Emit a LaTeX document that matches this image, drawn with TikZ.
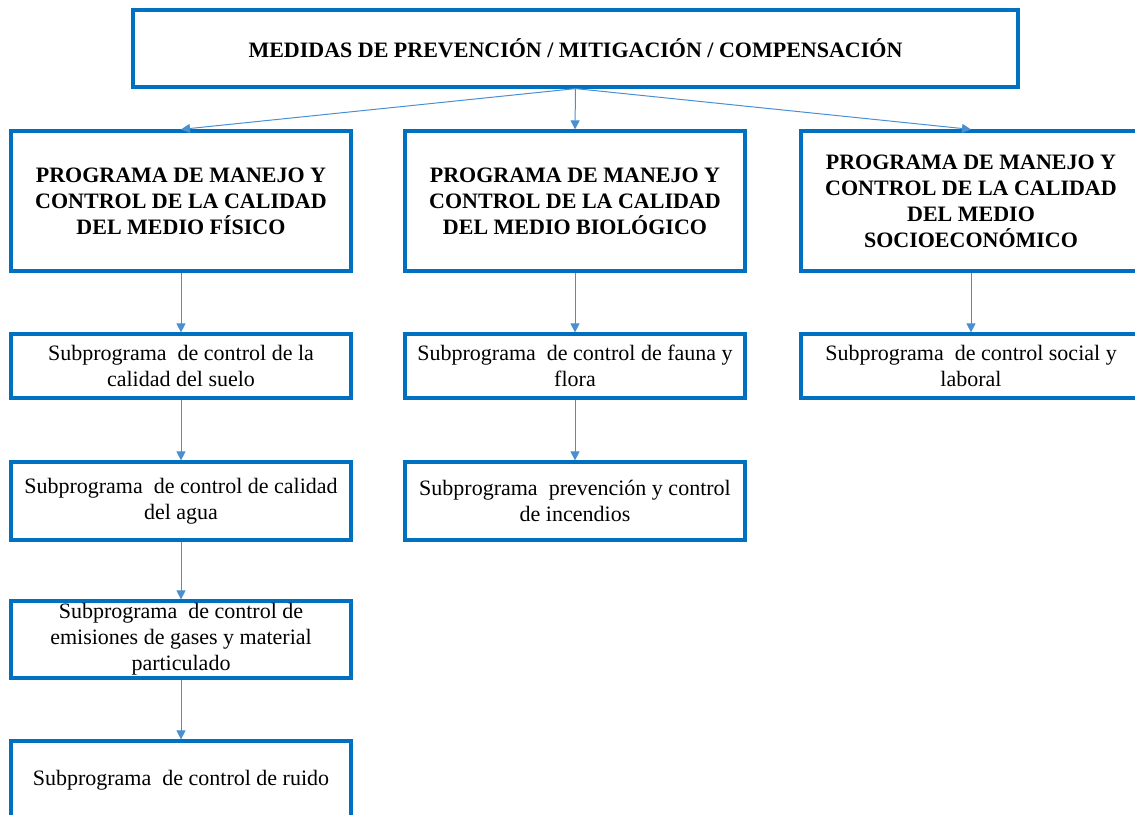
\documentclass[tikz,border=0pt]{standalone}
\usepackage{fontspec}
\setmainfont{Liberation Serif}
\usetikzlibrary{arrows.meta,positioning}
\definecolor{boxblue}{HTML}{0070C0}
\definecolor{lineblue}{HTML}{4A90D0}
\tikzstyle{titlebox} = [draw=boxblue, line width=3.2pt, align=center, inner sep=2pt, font=\fontsize{22}{26}\selectfont\bfseries]
\tikzstyle{subbox}   = [draw=boxblue, line width=3.2pt, align=center, inner sep=2pt, minimum width=340pt, font=\fontsize{22}{26}\selectfont]
\tikzstyle{arrow}    = [line width=1pt, draw=lineblue, -{Triangle[length=9pt,width=9pt]}, lineblue]

\begin{document}
\begin{tikzpicture}[x=1pt,y=-1pt]
        \useasboundingbox (0,0) rectangle (1135,814);

        % cabecera
        \node[titlebox, minimum width=885pt, minimum height=77pt] (medidas) at (575.5,48.5)
            {MEDIDAS DE PREVENCIÓN / MITIGACIÓN / COMPENSACIÓN};

        % programas
        \node[titlebox, minimum width=340pt, minimum height=140pt] (fisico) at (181,201)
            {PROGRAMA DE MANEJO Y\\CONTROL DE LA CALIDAD\\DEL MEDIO FÍSICO};
        \node[titlebox, minimum width=340pt, minimum height=140pt] (biologico) at (575,201)
            {PROGRAMA DE MANEJO Y\\CONTROL DE LA CALIDAD\\DEL MEDIO BIOLÓGICO};
        \node[titlebox, minimum width=340pt, minimum height=140pt] (socio) at (971,201)
            {PROGRAMA DE MANEJO Y\\CONTROL DE LA CALIDAD\\DEL MEDIO\\SOCIOECONÓMICO};

        % subprogramas
        \node[subbox, minimum height=64pt] (suelo) at (181,366)
            {Subprograma\ \ de control de la\\calidad del suelo};
        \node[subbox, minimum height=78pt] (agua) at (181,501)
            {Subprograma\ \ de control de calidad\\del agua};
        \node[subbox, minimum height=77pt, inner sep=0pt] (emisiones) at (181,639.5)
            {Subprograma\ \ de control de\\emisiones de gases y material\\particulado};
        \node[subbox, minimum height=78pt] (ruido) at (181,780)
            {Subprograma\ \ de control de ruido};

        \node[subbox, minimum height=64pt] (fauna) at (575,366)
            {Subprograma\ \ de control de fauna y\\flora};
        \node[subbox, minimum height=78pt] (incendios) at (575,501)
            {Subprograma\ \ prevención y control\\de incendios};

        \node[subbox, minimum height=64pt] (social) at (971,366)
            {Subprograma\ \ de control social y\\laboral};

        % conectores
        \draw[arrow] (medidas.south) -- (fisico.north);
        \draw[arrow] (medidas.south) -- (biologico.north);
        \draw[arrow] (medidas.south) -- (socio.north);

        \draw[arrow] (fisico) -- (suelo);
        \draw[arrow] (suelo) -- (agua);
        \draw[arrow] (agua) -- (emisiones);
        \draw[arrow] (emisiones) -- (ruido);

        \draw[arrow] (biologico) -- (fauna);
        \draw[arrow] (fauna) -- (incendios);

        \draw[arrow] (socio) -- (social);
    \end{tikzpicture}
\end{document}
